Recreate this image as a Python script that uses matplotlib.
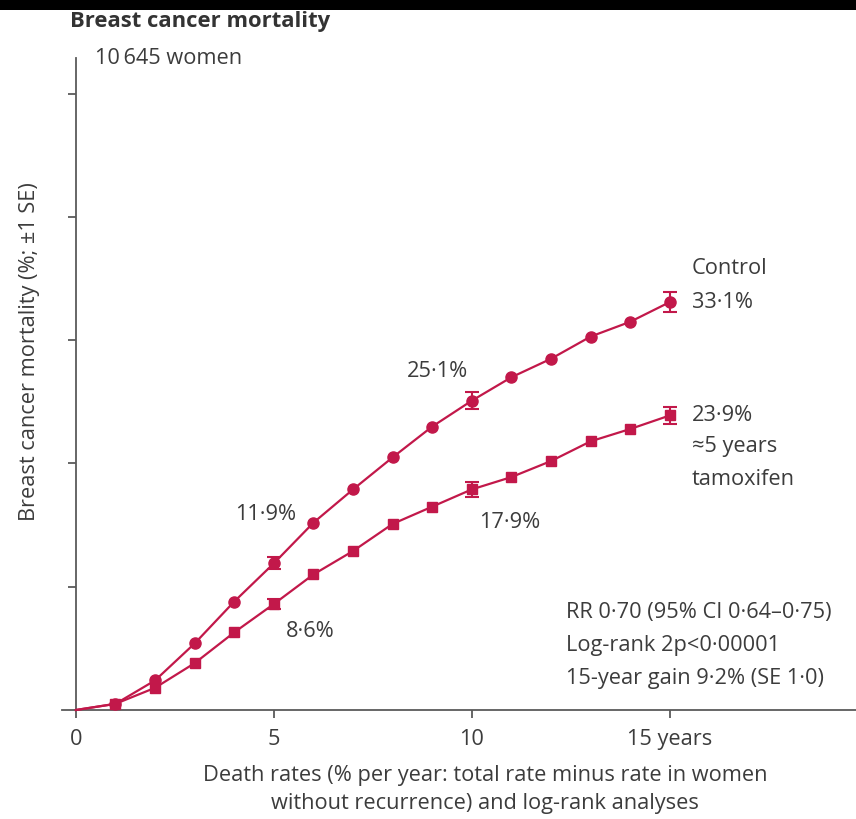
import matplotlib
matplotlib.use("Agg")
import matplotlib.pyplot as plt
from matplotlib.patches import Rectangle

plt.rcParams['font.family'] = ['Open Sans', 'DejaVu Sans']

# Cumulative breast cancer mortality (%) by year since entry
years = [0, 1, 2, 3, 4, 5, 6, 7, 8, 9, 10, 11, 12, 13, 14, 15]
control = [0, 0.5, 2.4, 5.4, 8.8, 11.9, 15.2, 17.9, 20.5, 23.0, 25.1, 27.0, 28.5, 30.3, 31.5, 33.1]
tamoxifen = [0, 0.5, 1.8, 3.8, 6.3, 8.6, 11.0, 12.9, 15.1, 16.5, 17.9, 18.9, 20.2, 21.8, 22.8, 23.9]

# Standard errors shown at 5, 10 and 15 years
se_years = [5, 10, 15]
control_se = [0.5, 0.7, 0.8]
tamoxifen_se = [0.4, 0.6, 0.7]

xticks = [0, 5, 10, 15]
xticklabels = ["0", "5", "10", "15 years"]
yticks = [10, 20, 30, 40, 50]

RED = "#c2184a"
TXT = "#3c3c3c"
AXC = "#5a5a5a"

W, H = 856, 819
fig = plt.figure(figsize=(W / 100, H / 100), dpi=100)

# top banner
fig.patches.append(Rectangle((0, 1 - 10 / H), 1, 10 / H, transform=fig.transFigure,
                             facecolor="black", edgecolor="none", zorder=0))

ax = fig.add_axes([62 / W, (H - 710) / H, 794 / W, 652 / H])
ax.set_xlim(-0.35, 19.7)
ax.set_ylim(0, 52.9)

for s in ("top", "right"):
    ax.spines[s].set_visible(False)
ax.spines["left"].set_position(("data", 0))
for s in ("left", "bottom"):
    ax.spines[s].set_color(AXC)
    ax.spines[s].set_linewidth(1.3)

fs = 15.7

ax.set_xticks(xticks)
ax.set_xticklabels(xticklabels)
ax.set_yticks(yticks)
ax.set_yticklabels([])
ax.tick_params(axis="both", direction="out", length=6, width=1.3, color=AXC,
               labelsize=fs, labelcolor=TXT, pad=7.5)

ax.plot(years, control, color=RED, lw=1.6, marker="o", markersize=8,
        markevery=list(range(1, len(years))), clip_on=False, zorder=3)
ax.plot(years, tamoxifen, color=RED, lw=1.6, marker="s", markersize=7,
        markevery=list(range(1, len(years))), clip_on=False, zorder=3)

c_at = [control[years.index(y)] for y in se_years]
t_at = [tamoxifen[years.index(y)] for y in se_years]
ax.errorbar(se_years, c_at, yerr=control_se, fmt="none", ecolor=RED,
            elinewidth=1.5, capsize=5, capthick=1.5, zorder=4)
ax.errorbar(se_years, t_at, yerr=tamoxifen_se, fmt="none", ecolor=RED,
            elinewidth=1.5, capsize=5, capthick=1.5, zorder=4)


def pct(v):
    return f"{v:.1f}%".replace(".", "·")


ax.text(15.56, 35.85, "Control", fontsize=fs, color=TXT, ha="left", va="center")
ax.text(15.56, control[-1], pct(control[-1]), fontsize=fs, color=TXT, ha="left", va="center")
ax.text(9.12, 27.5, pct(control[10]), fontsize=fs, color=TXT, ha="center", va="center")
ax.text(4.80, 15.9, pct(control[5]), fontsize=fs, color=TXT, ha="center", va="center")
ax.text(15.56, tamoxifen[-1], pct(tamoxifen[-1]), fontsize=fs, color=TXT, ha="left", va="center")
ax.text(15.56, 21.4, "≈5 years", fontsize=fs, color=TXT, ha="left", va="center")
ax.text(15.56, 18.7, "tamoxifen", fontsize=fs, color=TXT, ha="left", va="center")
ax.text(10.96, 15.25, pct(tamoxifen[10]), fontsize=fs, color=TXT, ha="center", va="center")
ax.text(5.91, 6.33, pct(tamoxifen[5]), fontsize=fs, color=TXT, ha="center", va="center")

stats = ["RR 0·70 (95% CI 0·64–0·75)",
         "Log-rank 2p<0·00001",
         "15-year gain 9·2% (SE 1·0)"]
for i, line in enumerate(stats):
    ax.text(12.37, 7.95 - i * 2.68, line, fontsize=fs, color=TXT, ha="left", va="center")

# figure-level text
fig.text(70 / W, 1 - 22 / H, "Breast cancer mortality", fontsize=15.8,
         fontweight="bold", color="#333333", ha="left", va="center")
fig.text(95 / W, 1 - 58 / H, "10\u2009645 women", fontsize=fs, color=TXT,
         ha="left", va="center")
fig.text(30 / W, 1 - 352 / H, "Breast cancer mortality (%; ±1 SE)", fontsize=fs,
         color=TXT, rotation=90, ha="center", va="center")
fig.text(485 / W, 1 - 775 / H, "Death rates (% per year: total rate minus rate in women",
         fontsize=fs, color=TXT, ha="center", va="center")
fig.text(485 / W, 1 - 803 / H, "without recurrence) and log-rank analyses",
         fontsize=fs, color=TXT, ha="center", va="center")

fig.savefig("out.png", dpi=100, facecolor="white")
